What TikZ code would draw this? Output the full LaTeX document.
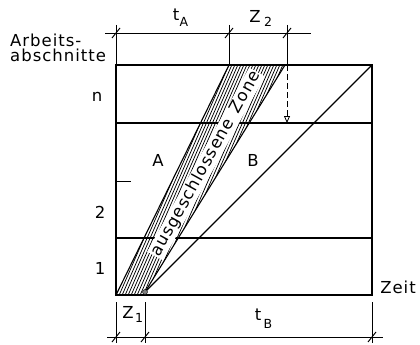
\documentclass[tikz,border=0pt]{standalone}
\usepackage{fontspec}
\setmainfont{DejaVu Sans}[LetterSpace=6]
\usetikzlibrary{arrows.meta}
\begin{document}
\begin{tikzpicture}[x=1pt,y=-1pt,
  frame/.style={line width=1.1pt},
  dimline/.style={line width=0.7pt},
  lbl/.style={font=\fontsize{16.5}{18}\selectfont, inner sep=0pt},
  subl/.style={font=\fontsize{12.5}{14}\selectfont, inner sep=0pt},
  tickmark/.style={line width=1pt}]
\useasboundingbox (0,0) rectangle (420,345);
% coordinates
\coordinate (BL) at (116,295);
\coordinate (BR) at (372,295);
\coordinate (TL) at (116,65);
\coordinate (TR) at (372,65);
\coordinate (L1) at (116,238);
\coordinate (R1) at (372,238);
\coordinate (L2) at (116,123);
\coordinate (R2) at (372,123);
\coordinate (ZA) at (229,65);
\coordinate (ZB) at (285,65);
\coordinate (ZC) at (145,292);
\coordinate (ZD) at (145,295);
% hatched band
\begin{scope}
  \clip (BL) -- (ZA) -- (ZB) -- (ZC) -- (ZD) -- cycle;
  \foreach \i in {-150,-147,...,320} {
    \draw[line width=0.75pt] (\i,300) -- (\i+105,60);
  }
\end{scope}
\draw[frame] (BL) -- (ZA);
\draw[frame] (ZC) -- (ZB);
% box
\draw[frame] (TL) rectangle (BR);
\draw[frame] (L1) -- (R1);
\draw[frame] (L2) -- (R2);
% line B
\draw[frame] (ZC) -- (TR);
\node[draw, circle, fill=gray, inner sep=0pt, minimum size=5pt] (mk) at (ZC) {};
% band text
\node[lbl, fill=white, inner sep=1pt, rotate=61] (zone) at (206,164) {ausgeschlossene\, Zone};
% small tick on left
\coordinate (tk1) at (116,181);
\coordinate (tk2) at (131,181);
\draw[line width=0.8pt] (tk1) -- (tk2);
% dashed arrow
\coordinate (da1) at (287,65);
\coordinate (da2) at (287,123);
\draw[line width=0.8pt, dash pattern=on 6pt off 3pt, -{Triangle[open, length=7pt, width=6pt]}] (da1) -- (da2);
% top dimension
\coordinate (td1) at (105,33);
\coordinate (td2) at (311,33);
\draw[dimline] (td1) -- (td2);
\foreach \x in {116,229,287} {
  \draw[dimline] (\x,25) -- (\x,65);
  \draw[tickmark] (\x-4,38) -- (\x+4,28);
}
% bottom dimension
\coordinate (bd1) at (107,337);
\coordinate (bd2) at (383,337);
\draw[dimline] (bd1) -- (bd2);
\foreach \x in {116,145,372} {
  \draw[dimline] (\x,302) -- (\x,343);
  \draw[tickmark] (\x-4,342) -- (\x+4,332);
}
% labels
\node[lbl, anchor=base west] (ar1) at (10,47) {Arbeits-};
\node[lbl, anchor=base west] (ar2) at (10,62) {abschnitte};
\node[lbl] (ln) at (97,97) {n};
\node[lbl] (l2) at (100,212) {2};
\node[lbl] (l1) at (100,268) {1};
\node[lbl] (la) at (158,160) {A};
\node[lbl] (lb) at (253,160) {B};
\node[lbl] (zeit) at (398,287) {Zeit};
% dimension labels
\node[lbl, anchor=base] (tA) at (176,21) {t};
\node[subl, anchor=base west] (tAs) at (tA.base east) [yshift=-6pt] {A};
\node[lbl, anchor=base] (Z2) at (255,23) {Z};
\node[subl, anchor=base west] (Z2s) at ([xshift=3pt]Z2.base east) [yshift=-4pt] {2};
\node[lbl, anchor=base] (Z1) at (128,318) {Z};
\node[subl, anchor=base west] (Z1s) at ([xshift=1pt]Z1.base east) [yshift=-4pt] {1};
\node[lbl, anchor=base] (tB) at (258,320) {t};
\node[subl, anchor=base west] (tBs) at ([xshift=2pt]tB.base east) [yshift=-8pt] {B};
\end{tikzpicture}
\end{document}
